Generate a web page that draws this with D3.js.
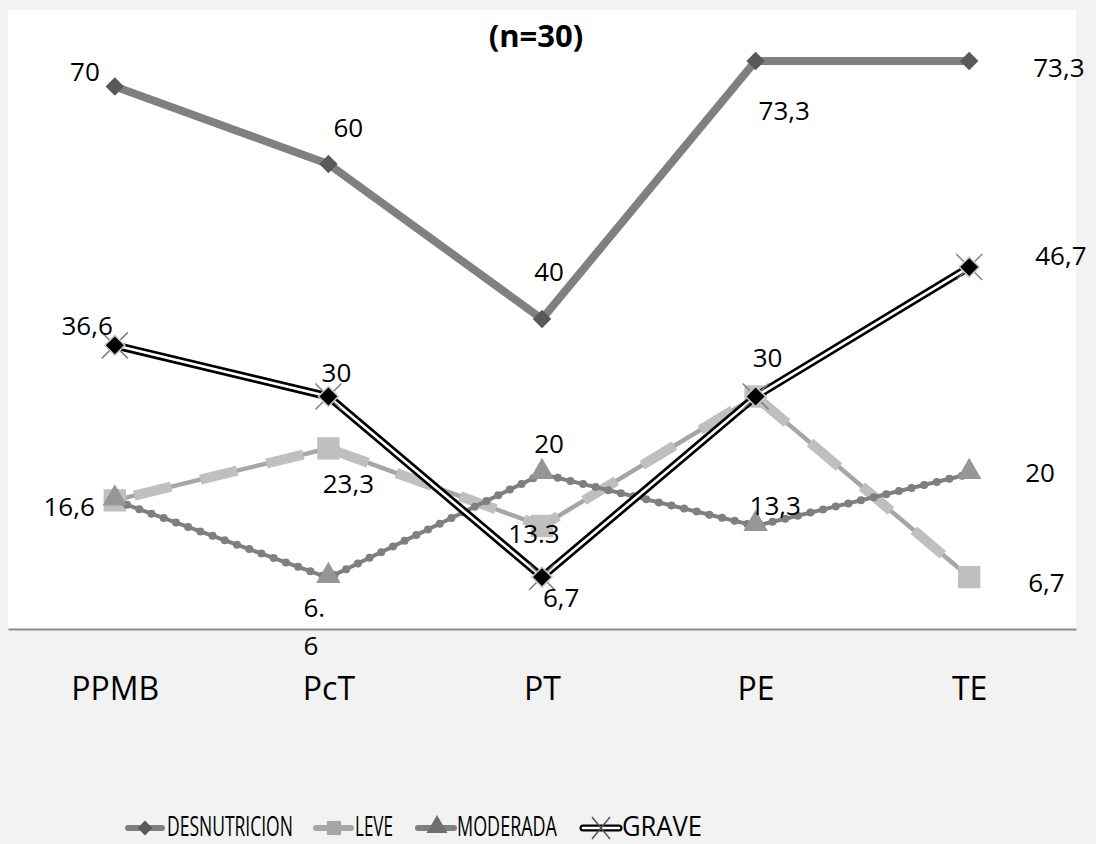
<!DOCTYPE html>
<html><head><meta charset="utf-8">
<script src="https://cdn.jsdelivr.net/npm/d3@7"></script>
<style>
html,body{margin:0;padding:0;background:#f2f2f2;}
svg{display:block;}
text{font-family:"Open Sans",sans-serif;fill:#000;}
</style></head>
<body>
<svg id="chart" width="1096" height="844"></svg>
<script>
// ---- data ----
const categories = ["PPMB", "PcT", "PT", "PE", "TE"];
const desnutricion = [70, 60, 40, 73.3, 73.3];
const leve = [16.6, 23.3, 13.3, 30, 6.7];
const moderada = [16.6, 6.6, 20, 13.3, 20];
const grave = [36.6, 30, 6.7, 30, 46.7];
const labelsDesnutricion = ["70", "60", "40", "73,3", "73,3"];
const labelsLeve = ["16,6", "23,3", "13.3", "", "6,7"];
const labelsModerada = ["", "6.|6", "20", "13,3", "20"];
const labelsGrave = ["36,6", "30", "6,7", "30", "46,7"];
const seriesNames = ["DESNUTRICION", "LEVE", "MODERADA", "GRAVE"];
const title = "(n=30)";
const yMax = 80;

// ---- label placement (style) ----
const offDes = [[-15,-6,"end"],[5,-27,"start"],[7,-38,"middle"],[3,59,"start"],[64,16,"start"]];
const offLeve = [[-20,16,"end"],[20,45,"middle"],[-8,17,"middle"],[0,0,"start"],[59,15,"start"]];
const offMod = [[0,0,"start"],[-25,39,"start"],[7,-21,"middle"],[-6,-11,"start"],[56,8,"start"]];
const offGrave = [[-2,-10,"end"],[8,-15,"middle"],[1,30,"start"],[12,-30,"middle"],[66,-2,"start"]];

const svg = d3.select("#chart");
const plotLeft = 8, plotRight = 1076, plotTop = 10, plotBottom = 629;

svg.append("rect").attr("x",0).attr("y",0).attr("width",1096).attr("height",844).attr("fill","#f2f2f2");
svg.append("rect").attr("x",plotLeft).attr("y",plotTop).attr("width",plotRight-plotLeft).attr("height",plotBottom-plotTop).attr("fill","#ffffff");

const x = d3.scalePoint().domain(categories).range([plotLeft, plotRight]).padding(0.5);
const y = d3.scaleLinear().domain([0, yMax]).range([plotBottom, 9]);

// axis
const ax = svg.append("g").attr("transform",`translate(0,${plotBottom})`)
  .call(d3.axisBottom(x).tickSize(0).tickSizeOuter(0));
ax.select(".domain").attr("stroke","#8c8c8c").attr("stroke-width",2);
ax.selectAll(".tick text").attr("y",71).attr("dy",0)
  .style("font-family","'Open Sans',sans-serif").style("font-size","32px").attr("fill","#000");

const line = d3.line().x((d,i)=>x(categories[i])).y(d=>y(d));

const g = svg.append("g");

// DESNUTRICION
g.append("path").datum(desnutricion).attr("d",line).attr("fill","none")
  .attr("stroke","#808080").attr("stroke-width",8).attr("stroke-linejoin","miter");
g.selectAll(".mdes").data(desnutricion).enter().append("path")
  .attr("transform",(d,i)=>`translate(${x(categories[i])},${y(d)}) rotate(45)`)
  .attr("d",d3.symbol().type(d3.symbolSquare).size(170)).attr("fill","#595959");

// LEVE
g.append("path").datum(leve).attr("d",line).attr("fill","none")
  .attr("stroke","#a6a6a6").attr("stroke-width",4.5);
g.append("path").datum(leve).attr("d",line).attr("fill","none")
  .attr("stroke","#bfbfbf").attr("stroke-width",10).attr("stroke-dasharray","38,30").attr("stroke-dashoffset",-20);
g.selectAll(".mleve").data(leve).enter().append("path")
  .attr("transform",(d,i)=>`translate(${x(categories[i])},${y(d)})`)
  .attr("d",d3.symbol().type(d3.symbolSquare).size(500)).attr("fill","#bfbfbf");

// MODERADA
g.append("path").datum(moderada).attr("d",line).attr("fill","none")
  .attr("stroke","#7f7f7f").attr("stroke-width",4);
g.append("path").datum(moderada).attr("d",line).attr("fill","none")
  .attr("stroke","#7f7f7f").attr("stroke-width",8).attr("stroke-linecap","round").attr("stroke-dasharray","0,13");
g.selectAll(".mmod").data(moderada).enter().append("path")
  .attr("transform",(d,i)=>`translate(${x(categories[i])},${y(d)-2})`)
  .attr("d",d3.symbol().type(d3.symbolTriangle).size(260)).attr("fill","#969696");

// GRAVE
g.append("path").datum(grave).attr("d",line).attr("fill","none")
  .attr("stroke","#000").attr("stroke-width",8);
g.append("path").datum(grave).attr("d",line).attr("fill","none")
  .attr("stroke","#fff").attr("stroke-width",2.6);
g.selectAll(".xgrave").data(grave).enter().append("path")
  .attr("transform",(d,i)=>`translate(${x(categories[i])},${y(d)})`)
  .attr("d","M-13,-13L13,13M-13,13L13,-13").attr("stroke","#808080").attr("stroke-width",1.5);
g.selectAll(".mgrave").data(grave).enter().append("path")
  .attr("transform",(d,i)=>`translate(${x(categories[i])},${y(d)}) rotate(45)`)
  .attr("d",d3.symbol().type(d3.symbolSquare).size(200)).attr("fill","#000")
  .attr("stroke","#c8c8c8").attr("stroke-width",1.5);

// labels
function addLabels(vals, labels, offs){
  vals.forEach((v,i)=>{
    if(!labels[i]) return;
    const px = x(categories[i]), py = y(v);
    const o = offs[i];
    const parts = labels[i].split("|");
    parts.forEach((p,k)=>{
      svg.append("text").attr("x",px+o[0]).attr("y",py+o[1]+k*38)
        .attr("text-anchor",o[2]).style("font-size","26px").text(p);
    });
  });
}
addLabels(desnutricion, labelsDesnutricion, offDes);
addLabels(leve, labelsLeve, offLeve);
addLabels(moderada, labelsModerada, offMod);
addLabels(grave, labelsGrave, offGrave);

// title
svg.append("text").attr("x",536).attr("y",47).attr("text-anchor","middle")
  .style("font-size","31px").style("font-weight","bold").text(title);

// legend
const lg = svg.append("g");
const ly = 828;
const legendX = [128, 316, 418, 583];
const textW = [126, 38, 100, 80];
// DESNUTRICION
lg.append("line").attr("x1",legendX[0]).attr("x2",legendX[0]+34).attr("y1",ly).attr("y2",ly)
  .attr("stroke","#808080").attr("stroke-width",6).attr("stroke-linecap","round");
lg.append("path").attr("transform",`translate(${legendX[0]+17},${ly}) rotate(45)`)
  .attr("d",d3.symbol().type(d3.symbolSquare).size(110)).attr("fill","#595959");
// LEVE
lg.append("line").attr("x1",legendX[1]).attr("x2",legendX[1]+35).attr("y1",ly).attr("y2",ly)
  .attr("stroke","#a6a6a6").attr("stroke-width",6).attr("stroke-linecap","round");
lg.append("path").attr("transform",`translate(${legendX[1]+18},${ly})`)
  .attr("d",d3.symbol().type(d3.symbolSquare).size(200)).attr("fill","#a6a6a6");
// MODERADA
lg.append("line").attr("x1",legendX[2]).attr("x2",legendX[2]+36).attr("y1",ly).attr("y2",ly)
  .attr("stroke","#7f7f7f").attr("stroke-width",6).attr("stroke-linecap","round");
lg.append("path").attr("transform",`translate(${legendX[2]+19},${ly-1})`)
  .attr("d",d3.symbol().type(d3.symbolTriangle).size(190)).attr("fill","#6f6f6f");
// GRAVE
lg.append("line").attr("x1",legendX[3]).attr("x2",legendX[3]+36).attr("y1",ly).attr("y2",ly)
  .attr("stroke","#000").attr("stroke-width",7).attr("stroke-linecap","round");
lg.append("line").attr("x1",legendX[3]).attr("x2",legendX[3]+36).attr("y1",ly).attr("y2",ly)
  .attr("stroke","#fff").attr("stroke-width",2.5).attr("stroke-linecap","round");
lg.append("path").attr("transform",`translate(${legendX[3]+18},${ly})`)
  .attr("d","M-9,-11L9,11M-9,11L9,-11").attr("stroke","#555").attr("stroke-width",1.5);

seriesNames.forEach((n,i)=>{
  const tx = legendX[i] + 39;
  const t = lg.append("text").attr("x",0).attr("y",0).style("font-size","28px").text(n);
  const natural = t.node().getComputedTextLength();
  const sx = textW[i] / natural;
  t.attr("transform",`translate(${tx},836) scale(${sx},1)`);
});
</script>
</body></html>
